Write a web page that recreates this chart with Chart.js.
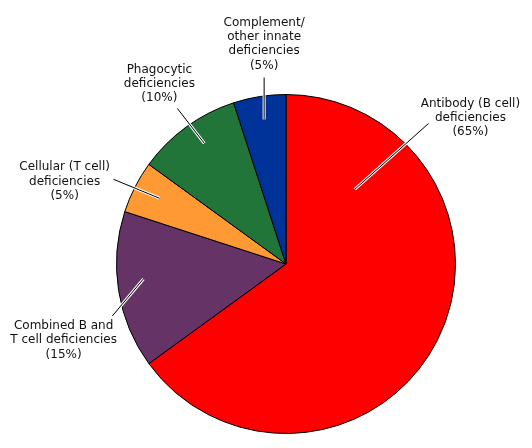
<!DOCTYPE html>
<html>
<head>
<meta charset="utf-8">
<script src="https://cdn.jsdelivr.net/npm/chart.js@4/dist/chart.umd.min.js"></script>
<style>
html,body{margin:0;padding:0;background:#fff;}
#wrap{width:532px;height:448px;}
</style>
</head>
<body>
<div id="wrap"><canvas id="c" width="532" height="448"></canvas></div>
<script>
// Data
const categories = [
  "Antibody (B cell)\ndeficiencies",
  "Combined B and\nT cell deficiencies",
  "Cellular (T cell)\ndeficiencies",
  "Phagocytic\ndeficiencies",
  "Complement/\nother innate\ndeficiencies"
];
const values = [65, 15, 5, 10, 5];
const colors = ["#FF0000", "#663366", "#FF9933", "#217539", "#003399"];

// Label layout (offsets in units of pie radius from pie centre)
const labelLayout = [
  {inner:[0.406,-0.441], outer:[0.841,-0.829], text:[1.088,-0.947]},
  {inner:[-0.841,0.088], outer:[-1.024,0.306], text:[-1.312,0.365]},
  {inner:[-0.747,-0.388], outer:[-1.018,-0.50], text:[-1.306,-0.571]},
  {inner:[-0.482,-0.712], outer:[-0.641,-0.918], text:[-0.747,-1.147]},
  {inner:[-0.129,-0.853], outer:[-0.129,-1.10], text:[-0.129,-1.424]}
];

const total = values.reduce((a,b)=>a+b,0);

const labelPlugin = {
  id: 'calloutLabels',
  afterDatasetsDraw(chart){
    const ctx = chart.ctx;
    const meta = chart.getDatasetMeta(0);
    meta.data.forEach((arc, i) => {
      const cx = arc.x, cy = arc.y, R = arc.outerRadius;
      const L = labelLayout[i];
      const x1 = cx + L.inner[0]*R, y1 = cy + L.inner[1]*R;
      const x2 = cx + L.outer[0]*R, y2 = cy + L.outer[1]*R;
      ctx.save();
      ctx.lineCap = 'butt';
      ctx.strokeStyle = '#ffffff';
      ctx.lineWidth = 3;
      ctx.beginPath(); ctx.moveTo(x1,y1); ctx.lineTo(x2,y2); ctx.stroke();
      ctx.strokeStyle = '#000000';
      ctx.lineWidth = 1;
      ctx.beginPath(); ctx.moveTo(x1,y1); ctx.lineTo(x2,y2); ctx.stroke();
      const lines = categories[i].split('\n').concat(['(' + Math.round(values[i]/total*100) + '%)']);
      ctx.fillStyle = '#111111';
      ctx.font = '12px "DejaVu Sans", Verdana, sans-serif';
      ctx.textAlign = 'center';
      ctx.textBaseline = 'middle';
      const tx = cx + L.text[0]*R, ty = cy + L.text[1]*R;
      lines.forEach((ln, k) => ctx.fillText(ln, tx, ty + k*14.3));
      ctx.restore();
    });
  }
};

new Chart(document.getElementById('c'), {
  type: 'pie',
  data: {
    labels: categories,
    datasets: [{
      data: values,
      backgroundColor: colors,
      borderColor: '#000000',
      borderWidth: 1
    }]
  },
  options: {
    responsive: false,
    animation: false,
    devicePixelRatio: 1,
    layout: { padding: { top: 94, bottom: 14, left: 116, right: 76 } },
    plugins: { legend: { display: false }, tooltip: { enabled: false } }
  },
  plugins: [labelPlugin]
});
</script>
</body>
</html>
